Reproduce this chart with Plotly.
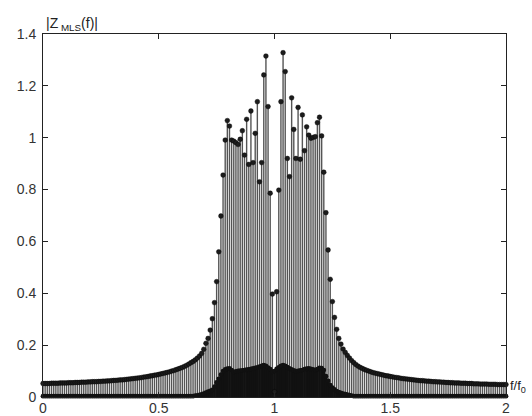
import plotly.graph_objects as go

# ---- data (f/f0 grid step = 1/108, centred on f/f0 = 1) ----
F_STEP = 1.0 / 108

# main series |Z_MLS(f)| (grey stems with round markers)
z_left_tail = [
    0.052, 0.052, 0.052, 0.052, 0.053, 0.053, 0.053, 0.053, 0.054, 0.054,
    0.054, 0.054, 0.055, 0.055, 0.055, 0.056, 0.056, 0.056, 0.057, 0.057,
    0.057, 0.058, 0.058, 0.059, 0.059, 0.059, 0.060, 0.060, 0.061, 0.061,
    0.062, 0.062, 0.063, 0.064, 0.064, 0.065, 0.066, 0.066, 0.067, 0.068,
    0.069, 0.070, 0.071, 0.072, 0.073, 0.074, 0.075, 0.077, 0.078, 0.079,
    0.081, 0.082, 0.084, 0.085, 0.087, 0.089, 0.091, 0.093, 0.095, 0.097,
    0.100, 0.102, 0.105, 0.108, 0.111, 0.114, 0.118, 0.122, 0.127, 0.132,
    0.137, 0.143, 0.150, 0.158, 0.168,
]
z_peak_left = [
    0.184, 0.207, 0.226, 0.258, 0.302, 0.364, 0.445, 0.560, 0.698, 0.856,
    0.991, 1.066, 1.045, 0.991, 0.987, 0.981, 0.974, 0.994, 1.027, 0.933,
    1.071, 0.897, 1.103, 0.904, 1.017, 1.139, 0.830, 0.904, 1.242, 1.315,
    1.120, 0.786, 0.397,
]
z_centre = [0.020]
z_peak_right = [
    0.406, 0.798, 1.139, 1.328, 1.255, 0.920, 0.850, 1.154, 1.032, 0.920,
    1.117, 0.917, 1.088, 0.950, 1.042, 1.010, 0.998, 1.001, 1.004, 1.058,
    1.079, 1.007, 0.867, 0.711, 0.567, 0.454, 0.368, 0.307, 0.261, 0.226,
    0.204,
]
z_right_tail = [
    0.185, 0.172, 0.160, 0.150, 0.140, 0.132, 0.125, 0.119, 0.114, 0.110,
    0.106, 0.103, 0.100, 0.097, 0.094, 0.092, 0.090, 0.088, 0.086, 0.084,
    0.082, 0.081, 0.079, 0.078, 0.076, 0.075, 0.074, 0.072, 0.071, 0.070,
    0.069, 0.068, 0.067, 0.066, 0.065, 0.064, 0.063, 0.063, 0.062, 0.061,
    0.061, 0.060, 0.059, 0.059, 0.058, 0.058, 0.057, 0.057, 0.056, 0.056,
    0.055, 0.055, 0.054, 0.054, 0.054, 0.053, 0.053, 0.053, 0.052, 0.052,
    0.052, 0.051, 0.051, 0.051, 0.050, 0.050, 0.050, 0.050, 0.049, 0.049,
    0.049, 0.049, 0.048, 0.048, 0.048, 0.048, 0.048,
]

# second series (black, dense stems near the bottom)
b_left_tail = [
    0.003, 0.003, 0.003, 0.003, 0.003, 0.003, 0.003, 0.003, 0.003, 0.003,
    0.003, 0.003, 0.003, 0.003, 0.003, 0.003, 0.003, 0.003, 0.003, 0.003,
    0.003, 0.003, 0.003, 0.003, 0.003, 0.003, 0.003, 0.003, 0.003, 0.003,
    0.003, 0.003, 0.003, 0.003, 0.003, 0.003, 0.003, 0.003, 0.003, 0.003,
    0.003, 0.003, 0.003, 0.003, 0.003, 0.003, 0.003, 0.003, 0.003, 0.003,
    0.003, 0.003, 0.003, 0.003, 0.003, 0.003, 0.003, 0.003, 0.003, 0.003,
    0.003, 0.003, 0.003, 0.003, 0.003, 0.003, 0.003, 0.003, 0.003, 0.003,
    0.003, 0.005, 0.006, 0.008, 0.010,
]
b_peak_left = [
    0.013, 0.017, 0.021, 0.024, 0.027, 0.040, 0.056, 0.070, 0.086, 0.100,
    0.106, 0.109, 0.110, 0.104, 0.097, 0.099, 0.101, 0.102, 0.103, 0.104,
    0.105, 0.106, 0.108, 0.110, 0.112, 0.114, 0.117, 0.120, 0.123, 0.120,
    0.113, 0.107, 0.097,
]
b_centre = [0.100]
b_peak_right = [
    0.108, 0.114, 0.120, 0.123, 0.120, 0.115, 0.110, 0.106, 0.103, 0.100,
    0.101, 0.103, 0.104, 0.107, 0.109, 0.110, 0.108, 0.106, 0.104, 0.107,
    0.112, 0.111, 0.104, 0.080, 0.062, 0.046, 0.036, 0.029, 0.023, 0.019,
    0.016,
]
b_right_tail = [
    0.013, 0.011, 0.009, 0.007, 0.005, 0.003, 0.003, 0.003, 0.003, 0.003,
    0.003, 0.003, 0.003, 0.003, 0.003, 0.003, 0.003, 0.003, 0.003, 0.003,
    0.003, 0.003, 0.003, 0.003, 0.003, 0.003, 0.003, 0.003, 0.003, 0.003,
    0.003, 0.003, 0.003, 0.003, 0.003, 0.003, 0.003, 0.003, 0.003, 0.003,
    0.003, 0.003, 0.003, 0.003, 0.003, 0.003, 0.003, 0.003, 0.003, 0.003,
    0.003, 0.003, 0.003, 0.003, 0.003, 0.003, 0.003, 0.003, 0.003, 0.003,
    0.003, 0.003, 0.003, 0.003, 0.003, 0.003, 0.003, 0.003, 0.003, 0.003,
    0.003, 0.003, 0.003, 0.003, 0.003, 0.003, 0.003,
]

x_ticks = [0, 0.5, 1, 1.5, 2]
x_tick_labels = ["0", "0.5", "1", "1.5", "2"]
y_ticks = [0, 0.2, 0.4, 0.6, 0.8, 1.0, 1.2, 1.4]
y_tick_labels = ["0", "0.2", "0.4", "0.6", "0.8", "1", "1.2", "1.4"]

# ---- assemble ----
z_main = z_left_tail + z_peak_left + z_centre + z_peak_right + z_right_tail
z_black = b_left_tail + b_peak_left + b_centre + b_peak_right + b_right_tail
centre_idx = len(z_left_tail) + len(z_peak_left)
freq = [1.0 + (i - centre_idx) * F_STEP for i in range(len(z_main))]


def stem_xy(xs, ys):
    sx, sy = [], []
    for x, y in zip(xs, ys):
        sx += [x, x, None]
        sy += [0, y, None]
    return sx, sy


fig = go.Figure()

mx, my = stem_xy(freq, z_main)
fig.add_trace(go.Scatter(x=mx, y=my, mode="lines",
                         line=dict(color="#555555", width=1.4),
                         hoverinfo="skip", showlegend=False))

n_b = min(len(freq), len(z_black))
bx, by = stem_xy(freq[:n_b], z_black[:n_b])
fig.add_trace(go.Scatter(x=bx, y=by, mode="lines",
                         line=dict(color="#111111", width=2.8),
                         hoverinfo="skip", showlegend=False))
fig.add_trace(go.Scatter(x=freq[:n_b], y=z_black[:n_b], mode="markers",
                         marker=dict(color="#111111", size=4.8, line=dict(width=0)),
                         cliponaxis=False, showlegend=False))

fig.add_trace(go.Scatter(x=freq, y=z_main, mode="markers",
                         marker=dict(color="#1c1c1c", size=4.8,
                                     line=dict(color="#000000", width=0.4)),
                         cliponaxis=False, showlegend=False))

font_family = "Liberation Sans, Arial, Helvetica, sans-serif"
axis_common = dict(
    showline=True, linecolor="#222222", linewidth=1, mirror="ticks",
    ticks="inside", ticklen=5, tickwidth=1, tickcolor="#222222",
    showgrid=False, zeroline=False, automargin=False,
    tickfont=dict(family=font_family, size=14, color="#333333"),
)

fig.update_layout(
    width=532, height=416, autosize=False,
    margin=dict(l=43, r=26, t=34, b=19),
    paper_bgcolor="white", plot_bgcolor="white",
    xaxis=dict(range=[0, 2], tickvals=x_ticks, ticktext=x_tick_labels,
               ticklabelstandoff=-2, **axis_common),
    yaxis=dict(range=[0, 1.4], tickvals=y_ticks, ticktext=y_tick_labels,
               ticklabelstandoff=3, **axis_common),
    annotations=[
        dict(text="|Z<sub> MLS</sub>(f)|", xref="paper", yref="paper",
             x=0.0, y=1.0, xanchor="left", yanchor="bottom", xshift=1, yshift=-1,
             showarrow=False, font=dict(family=font_family, size=14, color="#222222")),
        dict(text="f/f<sub>0</sub>", xref="paper", yref="paper",
             x=1.0, y=0.03, xanchor="left", yanchor="middle", xshift=2,
             showarrow=False, font=dict(family=font_family, size=13, color="#222222")),
    ],
)

fig.write_html("out.html",
               config={"displayModeBar": False, "responsive": False},
               post_script="document.body.style.margin='0px';"
                           "document.body.style.overflow='hidden';")
